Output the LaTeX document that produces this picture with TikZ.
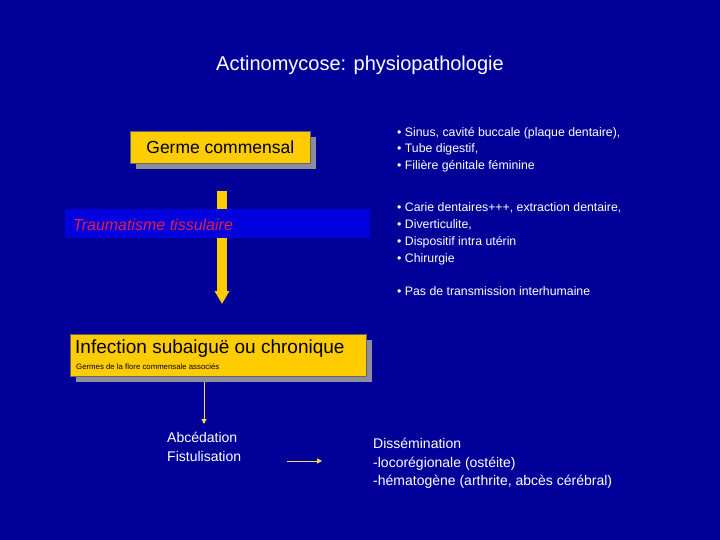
\documentclass[tikz,border=0pt]{standalone}
\usepackage{fontspec}
\setmainfont{Liberation Sans}
\usetikzlibrary{arrows.meta}
\definecolor{bg}{HTML}{000099}
\definecolor{band}{HTML}{0000DD}
\definecolor{ylw}{HTML}{FFCC00}
\definecolor{shd}{HTML}{8C8C9C}
\definecolor{trauma}{HTML}{E0204A}
\tikzset{
 ybox/.style={fill=ylw,draw=black!60,line width=0.6pt,anchor=north west,inner sep=0pt},
 shadow/.style={fill=shd},
 txt/.style={text=white,anchor=north west,align=left,inner sep=0pt,font=\fontsize{14}{18.5}\selectfont},
}
\begin{document}
\begin{tikzpicture}[x=1pt,y=-1pt]
\fill[bg] (0,0) rectangle (720,540);
\useasboundingbox (0,0) rectangle (720,540);
\node[text=white,font=\fontsize{20}{24}\selectfont] (title) at (360,65) {Actinomycose: physiopathologie};
% Germe commensal
\fill[shadow] (136,137) rectangle (316,169);
\node[ybox,minimum width=180pt,minimum height=32pt] (germe) at (130,131) {};
\node[font=\fontsize{17.5}{20}\selectfont] (germet) at (germe.center) {Germe commensal};
% arrow
\fill[ylw] (217,191) rectangle (227,209);
\fill[band] (65,209) rectangle (370,238);
\node[anchor=west,text=trauma,font=\itshape\fontsize{16}{18}\selectfont,inner sep=0pt] (trauma) at (73,225) {Traumatisme tissulaire};
\coordinate (a1) at (222,238);
\coordinate (a2) at (222,304);
\draw[ylw,line width=10pt,-{Triangle[length=13pt,width=14pt]}] (a1) -- (a2);
% Infection
\fill[shadow] (76,340) rectangle (372,382);
\node[ybox,minimum width=296pt,minimum height=42pt] (inf) at (70,334) {};
\node[anchor=west,inner sep=0pt,font=\fontsize{19}{21}\selectfont] (inft) at (75,349) {Infection subaiguë ou chronique};
\node[anchor=west,inner sep=0pt,font=\fontsize{7.8}{9}\selectfont] (infs) at (76,367) {Germes de la flore commensale associés};
% small arrow
\coordinate (b1) at (204,382);
\coordinate (b2) at (204,424);
\draw[ylw!70!white,line width=1pt,-{Triangle[length=5pt,width=5pt]}] (b1) -- (b2);
\node[txt] (abc) at (167,432) {Abcédation\\Fistulisation};
\coordinate (c1) at (287,461);
\coordinate (c2) at (322,461);
\draw[ylw!70!white,line width=1pt,-{Triangle[length=5pt,width=5pt]}] (c1) -- (c2);
\node[txt] (diss) at (373,438) {Dissémination\\-locorégionale (ostéite)\\-hématogène (arthrite, abcès cérébral)};
% right texts
\node[txt,font=\fontsize{12.3}{16.5}\selectfont] (r1) at (397,127) {• Sinus, cavité buccale (plaque dentaire),\\• Tube digestif,\\• Filière génitale féminine};
\node[txt,font=\fontsize{12.3}{17}\selectfont] (r2) at (397,202) {• Carie dentaires+++, extraction dentaire,\\• Diverticulite,\\• Dispositif intra utérin\\• Chirurgie};
\node[txt,font=\fontsize{12.3}{16}\selectfont] (r3) at (397,286) {• Pas de transmission interhumaine};
\end{tikzpicture}
\end{document}
